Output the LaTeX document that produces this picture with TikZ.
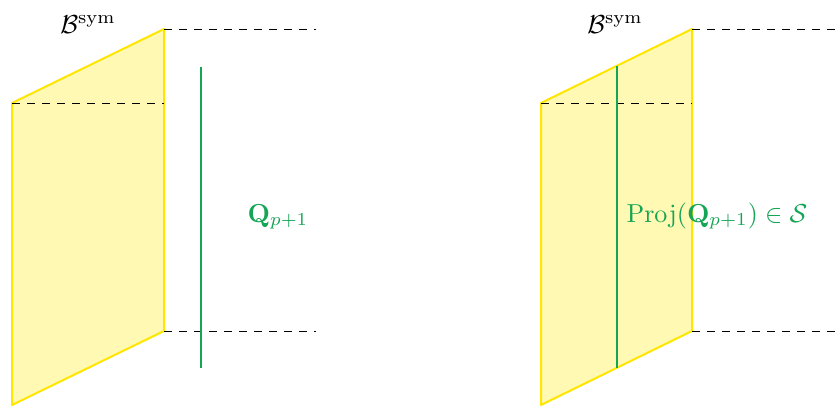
\documentclass[tikz,border=0pt]{standalone}
\usepackage{amsmath,amssymb}
\definecolor{planefill}{RGB}{255,249,180}
\definecolor{planeedge}{RGB}{255,230,0}
\definecolor{qgreen}{RGB}{20,165,85}
\tikzset{
  plane/.style={draw=planeedge, fill=planefill, line width=2pt, line join=round},
  guide/.style={draw=black, line width=0.8pt, dash pattern=on 8pt off 7pt},
  vec/.style={draw=qgreen, line width=2.2pt},
  lbl/.style={inner sep=0pt, anchor=base, scale=2.6},
  qlbl/.style={lbl, text=qgreen},
}
\begin{document}
\begin{tikzpicture}[x=1pt,y=-1pt]
\useasboundingbox (0,0) rectangle (839,405);
% left plane
\coordinate (la) at (12,103);
\coordinate (lb) at (164,29);
\coordinate (lc) at (164,331);
\coordinate (ld) at (12,405);
\path[plane] (la) -- (lb) -- (lc) -- (ld) -- cycle;
\coordinate (lg1) at (316,29);
\coordinate (lg3) at (316,331);
\coordinate (lm) at (164,103);
\path[guide] (lb) -- (lg1);
\path[guide] (la) -- (lm);
\path[guide] (lc) -- (lg3);
\coordinate (lq1) at (201,67);
\coordinate (lq2) at (201,368);
\path[vec] (lq1) -- (lq2);
\node[lbl] (lsym) at (88,33) {$\mathcal{B}^{\mathrm{sym}}$};
\node[qlbl] (lqt) at (278,222) {$\mathbf{Q}_{p+1}$};
% right plane
\coordinate (ra) at (541,103);
\coordinate (rb) at (692,29);
\coordinate (rc) at (692,331);
\coordinate (rd) at (541,405);
\path[plane] (ra) -- (rb) -- (rc) -- (rd) -- cycle;
\coordinate (rg1) at (839,29);
\coordinate (rg3) at (839,331);
\coordinate (rm) at (692,103);
\path[guide] (rb) -- (rg1);
\path[guide] (ra) -- (rm);
\path[guide] (rc) -- (rg3);
\coordinate (rq1) at (617,66);
\coordinate (rq2) at (617,368);
\path[vec] (rq1) -- (rq2);
\node[lbl] (rsym) at (615,33) {$\mathcal{B}^{\mathrm{sym}}$};
\node[qlbl] (rqt) at (717,222) {$\mathrm{Proj}(\mathbf{Q}_{p+1})\in\mathcal{S}$};
\end{tikzpicture}
\end{document}
